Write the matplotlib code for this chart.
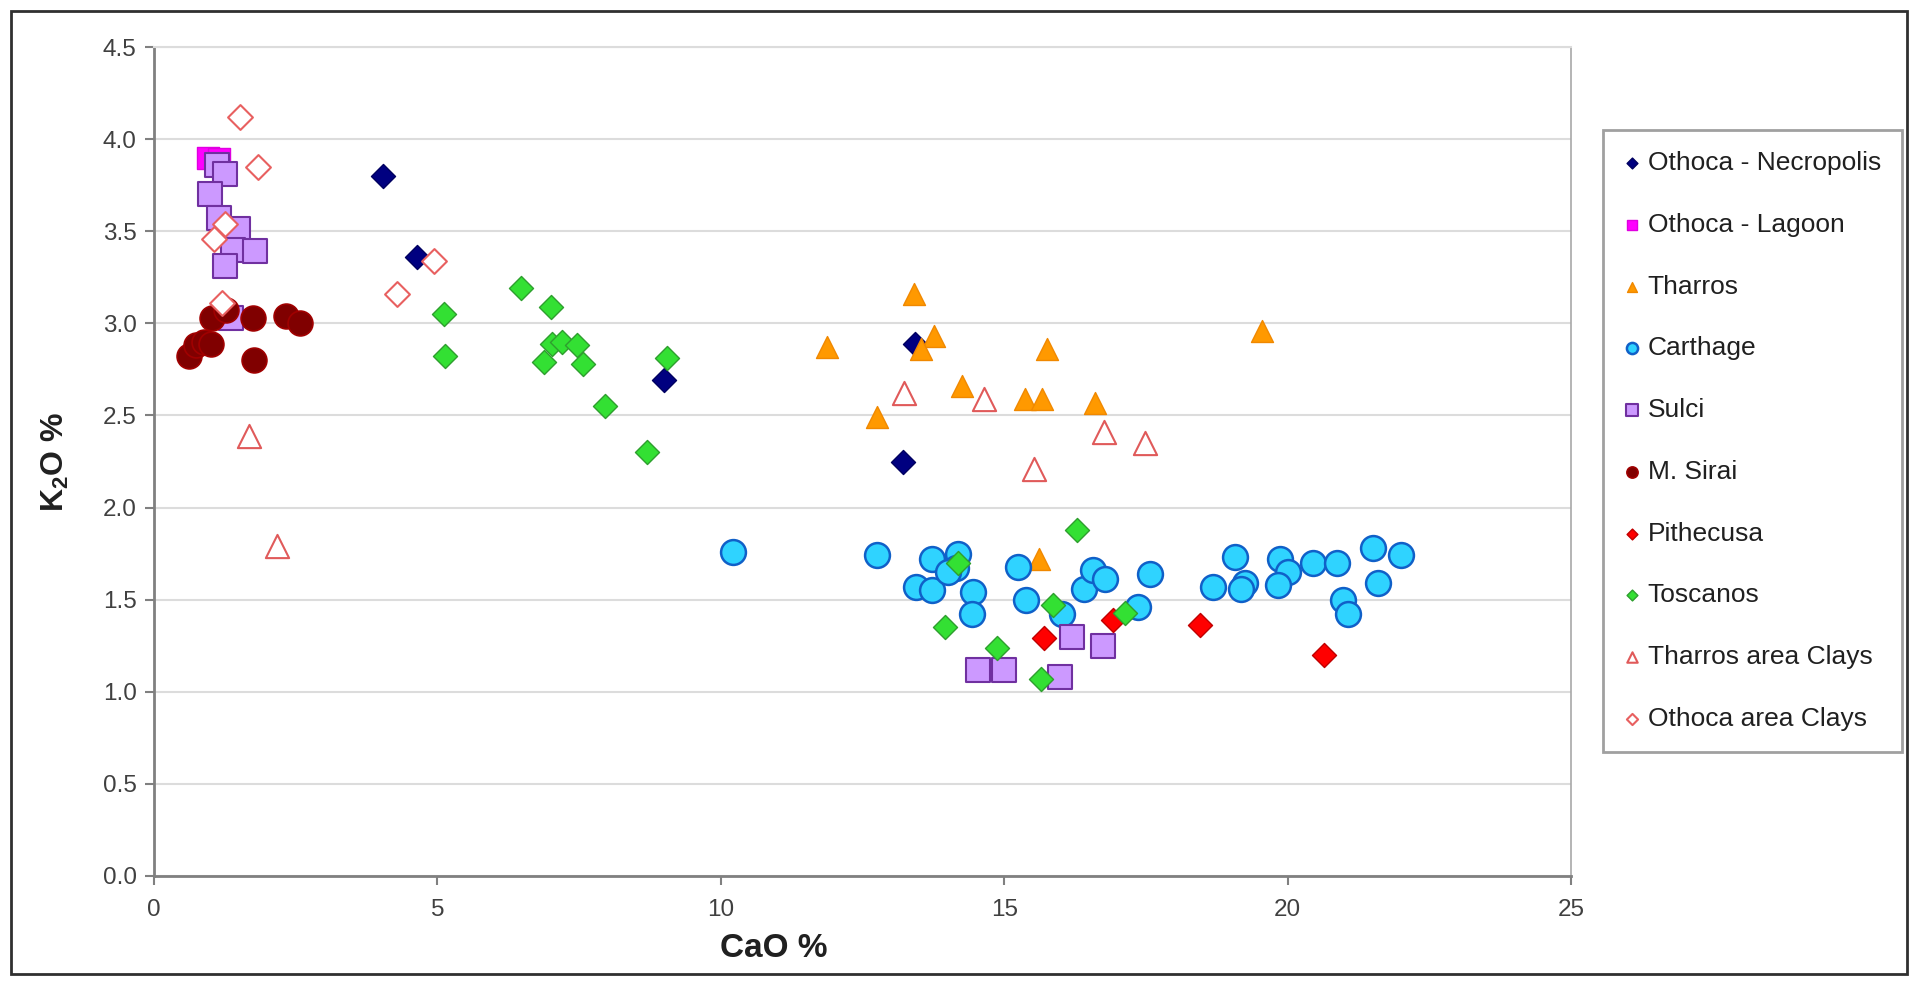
import matplotlib
matplotlib.use("Agg")
import matplotlib.pyplot as plt
from matplotlib.patches import Rectangle

plt.rcParams['font.family'] = ['Liberation Sans', 'DejaVu Sans']
plt.rcParams['mathtext.fontset'] = 'custom'
plt.rcParams['mathtext.rm'] = 'Liberation Sans'
plt.rcParams['mathtext.bf'] = 'Liberation Sans:bold'

# ---------------- data ----------------
necropolis_x = [4.04, 4.64, 8.99, 13.42, 13.21]
necropolis_y = [3.80, 3.36, 2.69, 2.89, 2.25]

lagoon_x = [0.95, 1.15]
lagoon_y = [3.90, 3.89]

tharros_x = [11.87, 12.75, 13.40, 13.77, 13.53, 14.25, 15.36, 15.67, 15.75, 16.60, 19.55, 15.62]
tharros_y = [2.87, 2.49, 3.16, 2.93, 2.86, 2.66, 2.59, 2.59, 2.86, 2.57, 2.96, 1.72]

carthage_x = [10.22, 12.75, 13.44, 13.72, 13.72, 14.19, 14.15, 14.00, 14.45, 14.43, 15.25,
              15.39, 16.02, 16.41, 16.57, 16.78, 17.57, 17.36, 18.68, 19.07, 19.25, 19.18,
              19.86, 20.00, 19.83, 20.45, 20.87, 21.51, 22.00, 21.59, 20.97, 21.07]
carthage_y = [1.76, 1.74, 1.57, 1.72, 1.55, 1.75, 1.67, 1.65, 1.54, 1.42, 1.68,
              1.50, 1.42, 1.56, 1.66, 1.61, 1.64, 1.46, 1.57, 1.73, 1.59, 1.56,
              1.72, 1.65, 1.58, 1.70, 1.70, 1.78, 1.74, 1.59, 1.50, 1.42]

sulci_x = [1.11, 1.25, 0.99, 1.14, 1.49, 1.40, 1.78, 1.25, 1.35, 14.54, 14.99, 15.98, 16.19, 16.75]
sulci_y = [3.86, 3.81, 3.70, 3.57, 3.51, 3.40, 3.39, 3.31, 3.03, 1.12, 1.12, 1.08, 1.30, 1.25]

sirai_x = [0.62, 0.74, 0.88, 1.00, 1.02, 1.27, 1.74, 1.77, 2.33, 2.58]
sirai_y = [2.82, 2.88, 2.90, 2.89, 3.03, 3.07, 3.03, 2.80, 3.04, 3.00]

pithecusa_x = [15.71, 16.92, 18.46, 20.65]
pithecusa_y = [1.29, 1.39, 1.36, 1.20]

toscanos_x = [6.47, 7.00, 7.03, 7.20, 7.47, 6.88, 7.57, 5.11, 5.14, 7.95, 9.05, 8.70,
              16.29, 14.19, 13.96, 14.88, 15.86, 17.13, 15.65]
toscanos_y = [3.19, 3.09, 2.89, 2.90, 2.88, 2.79, 2.78, 3.05, 2.82, 2.55, 2.81, 2.30,
              1.88, 1.70, 1.35, 1.24, 1.47, 1.43, 1.07]

tharros_clay_x = [1.68, 2.17, 13.24, 14.65, 15.52, 16.76, 17.48]
tharros_clay_y = [2.39, 1.79, 2.62, 2.59, 2.21, 2.41, 2.35]

othoca_clay_x = [1.52, 1.84, 1.25, 1.05, 1.20, 4.29, 4.94]
othoca_clay_y = [4.12, 3.85, 3.54, 3.46, 3.11, 3.16, 3.34]

x_ticks = [0, 5, 10, 15, 20, 25]
y_ticks = [0.0, 0.5, 1.0, 1.5, 2.0, 2.5, 3.0, 3.5, 4.0, 4.5]
y_ticklabels = ['0.0', '0.5', '1.0', '1.5', '2.0', '2.5', '3.0', '3.5', '4.0', '4.5']

# ---------------- figure ----------------
W, H = 1912, 985
fig = plt.figure(figsize=(W / 100, H / 100), dpi=100)
ax = fig.add_axes([154 / W, 1 - 876 / H, (1571 - 154) / W, (876 - 47) / H])

series = [
    (necropolis_x, necropolis_y, 'Othoca - Necropolis', dict(marker='D', s=150, c='#000080', edgecolors='#000060', linewidths=1.0)),
    (lagoon_x, lagoon_y, 'Othoca - Lagoon', dict(marker='s', s=260, c='#FF00FF', edgecolors='#E000E0', linewidths=1.0)),
    (tharros_x, tharros_y, 'Tharros', dict(marker='^', s=250, c='#FF9900', edgecolors='#F08800', linewidths=1.0)),
    (carthage_x, carthage_y, 'Carthage', dict(marker='o', s=320, c='#2FD3FF', edgecolors='#1060C8', linewidths=1.8)),
    (sulci_x, sulci_y, 'Sulci', dict(marker='s', s=310, c='#CC99FF', edgecolors='#7030A0', linewidths=1.5)),
    (sirai_x, sirai_y, 'M. Sirai', dict(marker='o', s=320, c='#800000', edgecolors='#A00000', linewidths=1.2)),
    (pithecusa_x, pithecusa_y, 'Pithecusa', dict(marker='D', s=150, c='#FF0000', edgecolors='#C00000', linewidths=1.0)),
    (toscanos_x, toscanos_y, 'Toscanos', dict(marker='D', s=150, c='#33E033', edgecolors='#2E9E2E', linewidths=1.0)),
    (tharros_clay_x, tharros_clay_y, 'Tharros area Clays', dict(marker='^', s=280, facecolors='white', edgecolors='#E05A5A', linewidths=1.5)),
    (othoca_clay_x, othoca_clay_y, 'Othoca area Clays', dict(marker='D', s=160, facecolors='white', edgecolors='#E86060', linewidths=1.5)),
]

for i, (xs, ys, lab, kw) in enumerate(series):
    ax.scatter(xs, ys, label=lab, zorder=3 + i * 0.01, **kw)

ax.set_xlim(0, 25)
ax.set_ylim(0, 4.5)
ax.set_xticks(x_ticks)
ax.set_xticklabels([str(t) for t in x_ticks])
ax.set_yticks(y_ticks)
ax.set_yticklabels(y_ticklabels)

ax.grid(axis='y', color='#DCDCDC', linewidth=1.5, zorder=0)
ax.set_axisbelow(True)
for side in ['left', 'bottom']:
    ax.spines[side].set_color('#808080')
    ax.spines[side].set_linewidth(2.0)
ax.spines['right'].set_color('#A8A8A8')
ax.spines['right'].set_linewidth(1.2)
ax.spines['top'].set_color('#DCDCDC')
ax.spines['top'].set_linewidth(1.5)

ax.tick_params(axis='both', direction='out', length=6.5, width=1.5, color='#808080',
               labelsize=17.5, labelcolor='#404040')
ax.tick_params(axis='x', pad=10)
ax.tick_params(axis='y', pad=6)

ax.set_xlabel('CaO %', fontsize=24, fontweight='bold', color='#202020')
ax.xaxis.set_label_coords(0.4376, -0.069)
ax.set_ylabel(r'K$_{\mathbf{2}}$O %', fontsize=23, fontweight='bold', color='#202020')
ax.yaxis.set_label_coords(-0.0585, 0.5)

leg = fig.legend(loc='upper left', bbox_to_anchor=(1603 / W, 1 - 753 / H, (1902 - 1603) / W, (753 - 130) / H),
                 mode='expand', fontsize=19, frameon=True, fancybox=False, markerscale=0.45,
                 handlelength=0.6, handletextpad=0.3, labelspacing=1.43, borderpad=0.8,
                 borderaxespad=0)
leg.get_frame().set_edgecolor('#888888')
leg.get_frame().set_linewidth(2.0)
for t in leg.get_texts():
    t.set_color('#202020')

fig.patches.append(Rectangle((11 / W, 11 / H), (1907 - 11) / W, (974 - 11) / H,
                             transform=fig.transFigure, fill=False, edgecolor='#303030',
                             linewidth=2.0))

fig.savefig('out.png', dpi=100, facecolor='white')
